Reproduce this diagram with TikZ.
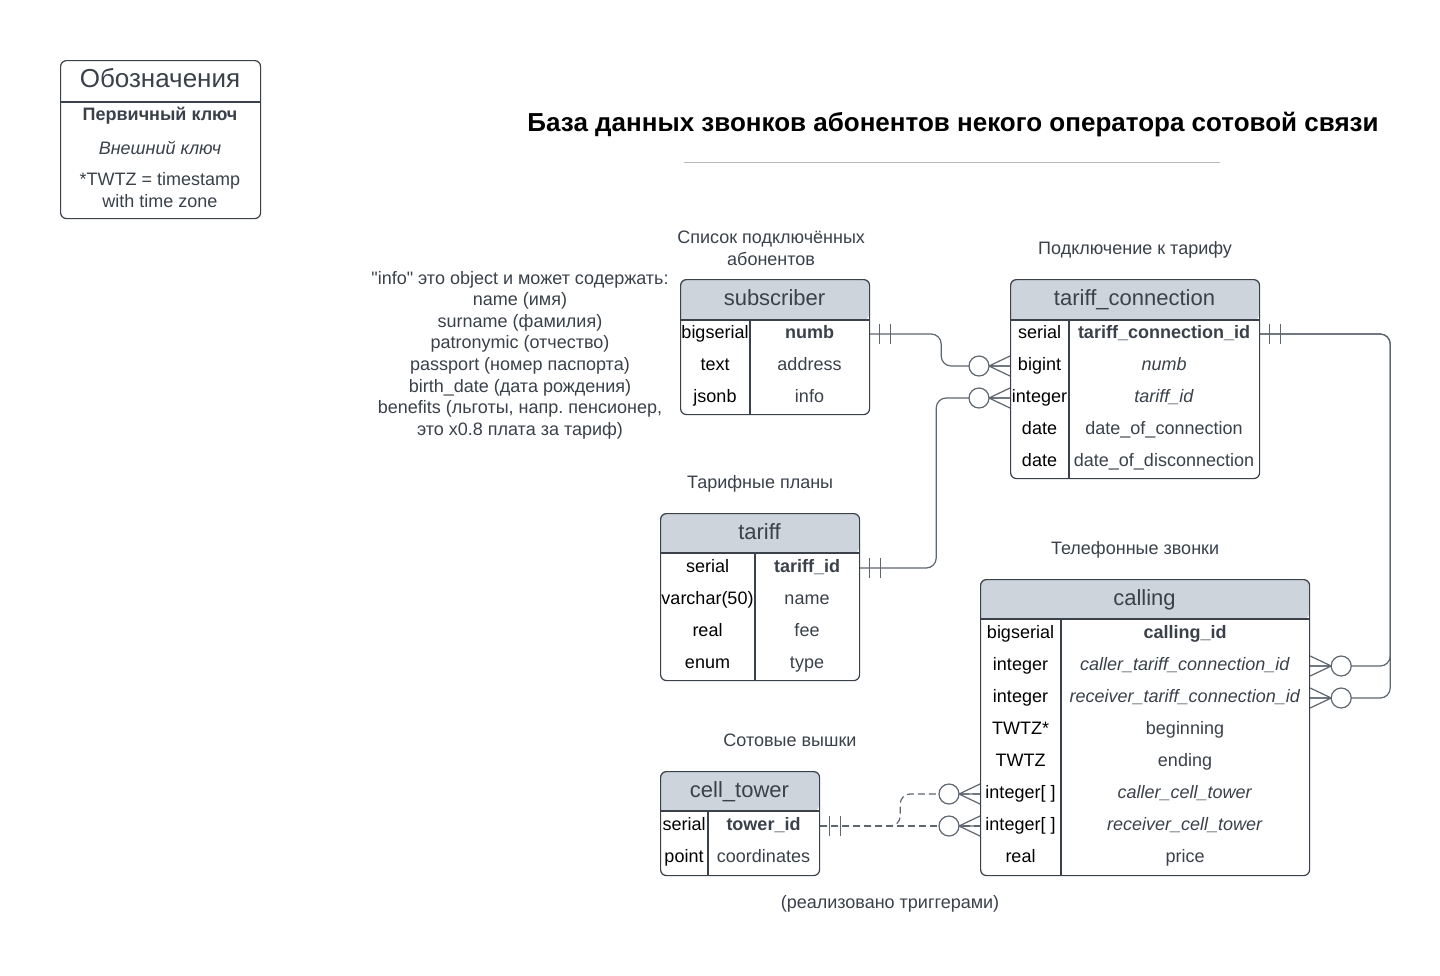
\documentclass[tikz,border=0pt]{standalone}
\usepackage{fontspec}
\setmainfont{Liberation Sans}
\usetikzlibrary{positioning}
\definecolor{ink}{HTML}{3A414A}
\definecolor{headfill}{HTML}{CED4DB}
\definecolor{wire}{HTML}{5E6670}
\frenchspacing

\begin{document}
\begin{tikzpicture}[
    x=1pt, y=-1pt,
    node distance=8pt,
    every node/.style={font=\fontsize{18}{21.6}\selectfont, text=ink},
    tblframe/.style={draw=ink, line width=1.2pt, rounded corners=6pt, anchor=north west, inner sep=0pt},
    tbltitle/.style={font=\fontsize{22}{26}\selectfont, text=ink, text height=16pt, text depth=5pt, inner sep=0pt},
    rowtext/.style={text height=13pt, text depth=4pt, inner sep=0pt},
    tblcell/.style={rowtext, text=black},
    tblrule/.style={draw=ink, line width=1.2pt},
    caption/.style={align=center, text=ink},
    link/.style={draw=wire, line width=1.2pt, rounded corners=10pt},
    optlink/.style={link, dash pattern=on 7pt off 4pt},
    many/.pic={
        \draw[wire, line width=1.2pt] (-21,0) -- (0,-10) (-21,0) -- (0,0) (-21,0) -- (0,10);
        \draw[wire, line width=1.2pt, fill=white] (-31,0) circle (10pt);
    },
    one/.pic={
        \draw[wire, line width=1.2pt] (9,-10) -- (9,10) (20,-10) -- (20,10);
    }
]
\useasboundingbox[fill=white] (0,0) rectangle (1440,975);

% legend
\node[tblframe, minimum width=200, minimum height=158] (legend) at (60,60) {};
\draw[tblrule] (60,102) -- (260,102);
\node[font=\fontsize{26}{30}\selectfont] (legend-t) at (160,78) {Обозначения};
\node (legend-pk) at (160,116) {\textbf{Первичный ключ}};
\node (legend-fk) at (160,148) {\textit{Внешний ключ}};
\node[caption] (legend-tz) at (160,190) {*TWTZ = timestamp\\with time zone};

% title
\node[font=\bfseries\fontsize{26}{30}\selectfont, text=black] (title) at (953,125) {База данных звонков абонентов некого оператора сотовой связи};
\draw[gray!55, line width=0.9pt] (684,162) -- (1220,162);

% subscriber
\fill[headfill] (680,320) [rounded corners=6pt] -- (680,279) -- (869,279) -- (869,320) [sharp corners] -- cycle;
\node[tblframe, minimum width=189, minimum height=135] (subscriber) at (680,279) {};
\draw[tblrule] (680,320) -- (869,320) (750,320) -- (750,414);
\node[tbltitle] (subscriber-t) at (774.5,300) {subscriber};
\foreach \ty/\fd [count=\i] in {bigserial/\textbf{numb}, text/address, jsonb/info} {
    \node[tblcell] (sub-\i) at (715,302+32*\i) {\ty};
    \node[rowtext] (subf-\i) at (809.5,302+32*\i) {\fd};
}
\node[caption, above=10pt of subscriber, xshift=-4pt] (subscriber-c) {Список подключённых\\абонентов};

% tariff_connection
\fill[headfill] (1010,320) [rounded corners=6pt] -- (1010,279) -- (1259,279) -- (1259,320) [sharp corners] -- cycle;
\node[tblframe, minimum width=249, minimum height=199] (tc) at (1010,279) {};
\draw[tblrule] (1010,320) -- (1259,320) (1069,320) -- (1069,478);
\node[tbltitle] (tc-t) at (1134.5,300) {tariff\_connection};
\foreach \ty/\fd [count=\i] in {serial/\textbf{tariff\_connection\_id}, bigint/\textit{numb}, integer/\textit{tariff\_id}, date/date\_of\_connection, date/date\_of\_disconnection} {
    \node[tblcell] (tc-\i) at (1039.5,302+32*\i) {\ty};
    \node[rowtext] (tcf-\i) at (1164,302+32*\i) {\fd};
}
\node[caption, above=17pt of tc] (tc-c) {Подключение к тарифу};

% tariff
\fill[headfill] (660,553) [rounded corners=6pt] -- (660,513) -- (859,513) -- (859,553) [sharp corners] -- cycle;
\node[tblframe, minimum width=199, minimum height=167] (tariff) at (660,513) {};
\draw[tblrule] (660,553) -- (859,553) (755,553) -- (755,680);
\node[tbltitle] (tariff-t) at (759.5,534) {tariff};
\foreach \ty/\fd [count=\i] in {serial/\textbf{tariff\_id}, varchar(50)/name, real/fee, enum/type} {
    \node[tblcell] (tar-\i) at (707.5,536+32*\i) {\ty};
    \node[rowtext] (tarf-\i) at (807,536+32*\i) {\fd};
}
\node[caption, above=17pt of tariff] (tariff-c) {Тарифные планы};

% calling
\fill[headfill] (980,619) [rounded corners=6pt] -- (980,579) -- (1309,579) -- (1309,619) [sharp corners] -- cycle;
\node[tblframe, minimum width=329, minimum height=296] (calling) at (980,579) {};
\draw[tblrule] (980,619) -- (1309,619) (1061,619) -- (1061,875);
\node[tbltitle] (calling-t) at (1144.5,600) {calling};
\foreach \ty/\fd [count=\i] in {bigserial/\textbf{calling\_id}, integer/\textit{caller\_tariff\_connection\_id}, integer/\textit{receiver\_tariff\_connection\_id}, TWTZ*/beginning, TWTZ/ending, integer[ ]/\textit{caller\_cell\_tower}, integer[ ]/\textit{receiver\_cell\_tower}, real/price} {
    \node[tblcell] (cal-\i) at (1020.5,602+32*\i) {\ty};
    \node[rowtext] (calf-\i) at (1185,602+32*\i) {\fd};
}
\node[caption, above=17pt of calling, xshift=-10pt] (calling-c) {Телефонные звонки};

% cell_tower
\fill[headfill] (660,811) [rounded corners=6pt] -- (660,771) -- (819,771) -- (819,811) [sharp corners] -- cycle;
\node[tblframe, minimum width=159, minimum height=104] (tower) at (660,771) {};
\draw[tblrule] (660,811) -- (819,811) (708,811) -- (708,875);
\node[tbltitle] (tower-t) at (739.5,792) {cell\_tower};
\foreach \ty/\fd [count=\i] in {serial/\textbf{tower\_id}, point/coordinates} {
    \node[tblcell] (ct-\i) at (684,794+32*\i) {\ty};
    \node[rowtext] (ctf-\i) at (763.5,794+32*\i) {\fd};
}
\node[caption] (tower-c) at (790,740) {Сотовые вышки};
\node[caption] (trigger-c) at (890,904) {(реализовано триггерами)};

% note on info
\node[caption] (info-note) at (520,355) {\textquotedbl info\textquotedbl{} это object и может содержать:\\name (имя)\\surname (фамилия)\\patronymic (отчество)\\passport (номер паспорта)\\birth\_date (дата рождения)\\benefits (льготы, напр. пенсионер,\\это x0.8 плата за тариф)};

% links
\draw[link] (sub-1 -| subscriber.east) -- ++(71,0) |- (tc-2 -| tc.west);
\draw[link] (tar-1 -| tariff.east) -- ++(76,0) |- (tc-3 -| tc.west);
\draw[link] (tc-1 -| tc.east) -- ++(130,0) |- (cal-2 -| calling.east);
\draw[link] (tc-1 -| tc.east) -- ++(130,0) |- (cal-3 -| calling.east);
\draw[optlink] (ct-1 -| tower.east) -- (cal-7 -| calling.west);
\draw[optlink] (ct-1 -| tower.east) -- ++(80,0) |- (cal-6 -| calling.west);

% ends
\pic at (sub-1 -| subscriber.east) {one};
\pic at (tar-1 -| tariff.east) {one};
\pic at (tc-1 -| tc.east) {one};
\pic at (ct-1 -| tower.east) {one};
\pic at (tc-2 -| tc.west) {many};
\pic at (tc-3 -| tc.west) {many};
\pic[rotate=180] at (cal-2 -| calling.east) {many};
\pic[rotate=180] at (cal-3 -| calling.east) {many};
\pic at (cal-6 -| calling.west) {many};
\pic at (cal-7 -| calling.west) {many};
\end{tikzpicture}
\end{document}
